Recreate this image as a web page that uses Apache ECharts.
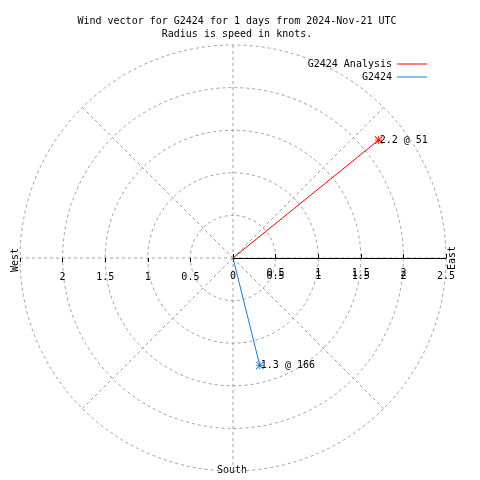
<!DOCTYPE html>
<html>
<head>
<meta charset="utf-8">
<script src="https://cdn.jsdelivr.net/npm/echarts@6/dist/echarts.min.js"></script>
<style>html,body{margin:0;padding:0;background:#fff}#c{width:480px;height:480px}</style>
</head>
<body>
<div id="c"></div>
<script>
var titleLines = ['Wind vector for G2424 for 1 days from 2024-Nov-21 UTC', 'Radius is speed in knots.'];
var seriesNames = ['G2424 Analysis', 'G2424'];
var seriesColors = ['#ff0000', '#1a78e0'];
var speeds = [2.2, 1.3];
var directions = [51, 166];
var radiusTicks = ['0', '0.5', '1', '1.5', '2', '2.5'];
var compassLabels = ['West', 'East', 'South'];

var FONT = 'DejaVu Sans Mono';
var CX = 233, CY = 258, R = 213;
var asterisk = 'path://M0 4.5L10 4.5L10 5.5L0 5.5Z M4.5 0L5.5 0L5.5 10L4.5 10Z M0.8 0L10 9.2L9.2 10L0 0.8Z M9.2 0L10 0.8L0.8 10L0 9.2Z';

function fmtTick(v){ return String(Math.round(v*10)/10); }

var chart = echarts.init(document.getElementById('c'), null, {renderer:'canvas'});

var series = seriesNames.map(function(name, i){
  return {
    name: name,
    type: 'line',
    coordinateSystem: 'polar',
    polarIndex: 0,
    color: seriesColors[i],
    lineStyle: {color: seriesColors[i], width: 1},
    symbol: 'none',
    animation: false,
    z: 10,
    data: [
      {value: [0, directions[i]], symbol: 'none'},
      {value: [speeds[i], directions[i]], symbol: asterisk, symbolSize: 8,
        itemStyle: {color: seriesColors[i]},
        label: {show: true, position: 'right', distance: -3, color: '#000', fontFamily: FONT, fontSize: 10,
          formatter: speeds[i] + ' @ ' + directions[i]}}
    ]
  };
});

var hiddenAngle = function(idx, start){
  return {polarIndex: idx, startAngle: start, min: 0, max: 360, clockwise: true, show: true,
    axisLine:{show:false}, axisTick:{show:false}, axisLabel:{show:false}, splitLine:{show:false}};
};

var option = {
  backgroundColor: '#fff',
  animation: false,
  title: {
    text: titleLines.join('\n'),
    left: 232, top: 10, textAlign: 'center',
    textStyle: {fontFamily: FONT, fontSize: 10, fontWeight: 'normal', color: '#000', lineHeight: 13}
  },
  legend: {
    orient: 'vertical', right: 48, top: 53, align: 'right',
    itemWidth: 30, itemHeight: 1, itemGap: 1, icon: 'rect',
    textStyle: {fontFamily: FONT, fontSize: 10, color: '#000', lineHeight: 12},
    data: seriesNames
  },
  polar: [
    {center: [CX, CY], radius: R},
    {center: [CX, CY], radius: R},
    {center: [CX, CY], radius: R},
    {center: [CX, CY], radius: R}
  ],
  angleAxis: [
    {polarIndex: 0, startAngle: 90, clockwise: true, min: 0, max: 360, interval: 45,
      axisLine:{show:false}, axisTick:{show:false}, axisLabel:{show:false},
      splitLine:{show:true, lineStyle:{color:'#a0a0a0', type:[3,3], width:1}}},
    hiddenAngle(1, 0),
    hiddenAngle(2, 180),
    hiddenAngle(3, 0)
  ],
  radiusAxis: [
    {polarIndex: 0, min: 0, max: 2.5, interval: 0.5,
      axisLine:{show:false}, axisTick:{show:false}, axisLabel:{show:false},
      splitLine:{show:true, lineStyle:{color:'#a0a0a0', type:[3,3], width:1}}},
    {polarIndex: 1, min: 0, max: 2.5, interval: 0.5, z: 5,
      axisLine:{show:true, lineStyle:{color:'#000', width:1}},
      axisTick:{show:true, length:4, lineStyle:{color:'#000'}},
      axisLabel:{show:true, margin: -23, color:'#000', fontFamily: FONT, fontSize: 10, formatter: fmtTick},
      splitLine:{show:false}},
    {polarIndex: 2, min: 0, max: 2.5, interval: 0.5, z: 5,
      axisLine:{show:false},
      axisTick:{show:true, length:4, lineStyle:{color:'#000'}},
      axisLabel:{show:true, margin: 14, color:'#000', fontFamily: FONT, fontSize: 10,
        formatter: function(v){ return (v === 0 || v >= 2.5) ? '' : fmtTick(v); }},
      splitLine:{show:false}},
    {polarIndex: 3, min: 0, max: 2.5, interval: 0.5, z: 5,
      axisLine:{show:false},
      axisTick:{show:true, inside: true, length:3, lineStyle:{color:'#000'}},
      axisLabel:{show:true, margin: -20, color:'#000', fontFamily: FONT, fontSize: 10,
        formatter: function(v){ return (v === 0 || v >= 2.5) ? '' : fmtTick(v); }},
      splitLine:{show:false}}
  ],
  graphic: [
    {type:'text', x: 15, y: 260, rotation: Math.PI/2,
      style:{text: compassLabels[0], fontFamily: FONT, fontSize: 10, fill:'#000', align:'center', verticalAlign:'middle'}},
    {type:'text', x: 452, y: 258, rotation: Math.PI/2,
      style:{text: compassLabels[1], fontFamily: FONT, fontSize: 10, fill:'#000', align:'center', verticalAlign:'middle'}},
    {type:'text', x: 232, y: 470,
      style:{text: compassLabels[2], fontFamily: FONT, fontSize: 10, fill:'#000', align:'center', verticalAlign:'middle'}}
  ],
  series: series
};
chart.setOption(option);
</script>
</body>
</html>
